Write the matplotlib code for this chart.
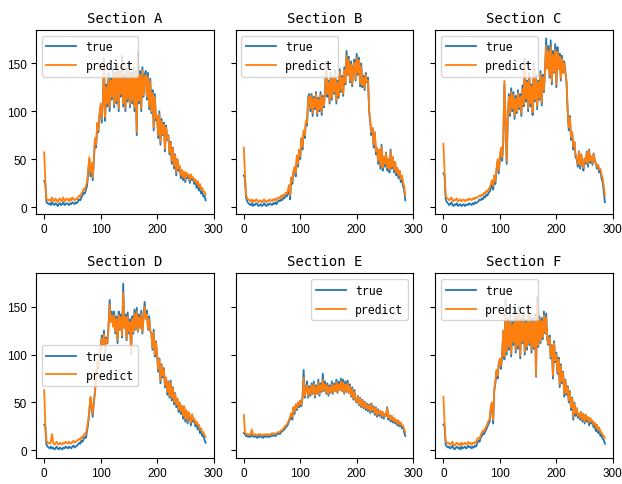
import matplotlib
matplotlib.use("Agg")
import matplotlib.pyplot as plt
import numpy as np

x = list(range(0, 288, 2))

A_true = [27, 25, 5, 4,
          3, 4, 2, 5, 3, 2, 4, 3, 1, 3, 4, 2, 3, 5, 2, 3, 4, 3, 2, 4, 3, 5, 4, 3, 5, 4,
          6, 8, 7, 10, 12, 15, 14, 18,
          22, 35, 50, 32, 45, 28,
          48, 70, 62, 85, 78, 95,
          105, 88, 110,
          155,
          90, 128, 105, 140, 100, 135, 112, 145, 104, 140, 108, 150, 100, 142, 115, 158, 105, 138, 100, 145,
          110, 150, 104, 140, 108, 146, 100, 142, 75, 162, 108, 142, 100, 146, 115, 138, 142, 112, 140, 102, 134,
          98, 122, 80, 118, 90,
          95, 72, 100, 65, 92, 75, 88, 58, 85, 70,
          75, 55, 68, 45, 62, 40, 55, 33, 50, 38,
          42, 30, 38, 28, 36, 26, 35, 30, 32, 25, 33, 28, 30, 24, 27,
          20, 25, 17, 22, 14, 16, 11, 12, 7]
A_pred = [57, 28, 9, 7,
          7, 8, 6, 10, 7, 6, 9, 7, 5, 8, 9, 6, 7, 10, 6, 7, 9, 8, 6, 9, 7, 10, 8, 7, 9, 8,
          10, 12, 11, 14, 16, 19, 18, 22,
          26, 38, 52, 36, 46, 31,
          50, 72, 65, 88, 80, 97,
          108, 92, 112,
          150,
          94, 125, 108, 136, 104, 132, 115, 140, 107, 136, 111, 145, 103, 138, 118, 152, 108, 134, 103, 141,
          113, 145, 107, 136, 111, 142, 104, 138, 78, 155, 111, 138, 103, 142, 117, 135, 138, 115, 136, 105, 131,
          100, 119, 83, 115, 93,
          95, 75, 97, 68, 90, 76, 86, 61, 83, 71,
          74, 57, 67, 48, 61, 43, 54, 36, 50, 40,
          43, 33, 39, 31, 37, 29, 36, 32, 34, 28, 34, 30, 31, 27, 29,
          24, 27, 21, 24, 18, 20, 16, 16, 13]

B_true = [33, 30, 10, 6,
          4, 3, 2, 4, 1, 3, 2, 4, 3, 1, 2, 3, 1, 2, 4, 2, 1, 3, 2, 4, 3, 2, 4, 3, 5, 3,
          5, 7, 6, 8, 7, 10, 9, 12, 11, 14,
          20, 8, 30, 24, 36,
          40, 32, 52, 42, 58, 50, 70, 60, 78, 72, 88, 85,
          115, 118,
          100, 118, 95, 115, 102, 120, 95, 114, 100, 120, 96, 116, 104,
          125, 152, 115,
          132, 108, 140, 112, 136, 118, 142, 108, 132, 114, 144, 120, 137, 116, 146,
          128, 163,
          138, 157, 130, 152, 126, 147, 154, 132, 160, 138, 156, 126, 150,
          125, 137, 122, 140, 130,
          135, 100, 88, 75, 82, 62, 78, 55,
          62, 45, 60, 40, 65, 38, 52, 42, 57,
          38, 50, 36, 60, 40, 52, 36, 47,
          33, 40, 30, 37, 26, 32, 22, 18, 7]
B_pred = [62, 35, 13, 9,
          8, 7, 6, 8, 5, 7, 6, 8, 7, 5, 6, 7, 5, 6, 8, 6, 5, 7, 6, 8, 7, 6, 8, 7, 9, 7,
          9, 10, 9, 12, 10, 13, 12, 15, 14, 17,
          23, 12, 31, 27, 38,
          42, 35, 54, 45, 60, 53, 72, 63, 80, 75, 90, 88,
          112, 116,
          103, 116, 98, 113, 104, 118, 98, 112, 102, 117, 99, 114, 106,
          123, 148, 118,
          130, 110, 137, 114, 134, 120, 139, 111, 130, 116, 141, 122, 135, 118, 143,
          130, 158,
          139, 154, 132, 149, 128, 145, 151, 134, 156, 140, 153, 129, 147,
          127, 135, 124, 138, 131,
          132, 102, 90, 78, 83, 65, 78, 58,
          62, 48, 60, 43, 63, 41, 53, 45, 56,
          41, 50, 39, 58, 42, 52, 39, 47,
          36, 41, 33, 38, 29, 33, 26, 22, 12]

C_true = [35, 33, 8, 5,
          4, 2, 3, 5, 2, 1, 3, 2, 4, 1, 2, 3, 1, 2, 3, 1, 2, 3, 2, 4, 3, 2, 4, 3, 5, 4,
          5, 6, 8, 7, 9, 8, 11, 10, 13, 12, 15, 16,
          20, 25, 18, 30, 24, 38, 48, 35,
          50, 60, 48, 68,
          128, 90, 45,
          92, 118, 95, 124, 100, 120, 92, 116, 98, 122, 102, 118, 95, 127, 105,
          155, 110,
          132, 100, 140, 105, 128, 96, 150, 110, 138, 102, 132, 112, 142, 106, 138, 120,
          145, 176,
          145, 168, 135, 174, 128, 163, 140, 170, 125, 167, 145, 160, 132, 158, 140, 152,
          142, 130,
          100, 80, 95, 70, 78, 60, 68, 52,
          50, 42, 58, 40, 55, 44, 38, 50,
          45, 58, 42, 60, 46, 52, 44, 56, 48,
          45, 40, 43, 36, 38, 30, 26, 15, 5]
C_pred = [66, 36, 12, 9,
          9, 7, 8, 10, 7, 6, 8, 7, 9, 6, 7, 8, 6, 7, 8, 6, 7, 8, 7, 9, 8, 7, 9, 8, 10, 9,
          10, 11, 12, 11, 13, 12, 15, 14, 17, 16, 19, 20,
          24, 28, 22, 33, 27, 40, 50, 38,
          53, 62, 52, 70,
          132, 92, 48,
          95, 115, 98, 120, 103, 117, 95, 113, 100, 119, 104, 115, 98, 123, 107,
          150, 113,
          130, 103, 137, 108, 126, 99, 146, 112, 135, 105, 130, 114, 139, 109, 135, 122,
          143, 168,
          144, 163, 137, 167, 131, 159, 141, 164, 128, 162, 144, 157, 134, 155, 140, 150,
          140, 131,
          102, 83, 93, 73, 78, 63, 68, 55,
          52, 45, 57, 43, 55, 46, 41, 51,
          47, 57, 45, 59, 48, 53, 46, 55, 49,
          46, 42, 44, 39, 40, 34, 30, 22, 12]

D_true = [27, 25, 6, 4,
          3, 2, 4, 2, 3, 1, 2, 4, 2, 1, 3, 2, 1, 3, 2, 4, 3, 2, 4, 3, 2, 4, 5, 3, 4, 5,
          6, 8, 7, 10, 9, 12, 14, 13,
          20, 28, 40, 55, 45, 35,
          50, 60, 75, 90, 85, 98,
          105, 120, 110, 125, 100, 118, 112,
          130, 157, 135, 145, 130,
          145, 122, 140, 112, 145, 126, 142, 118,
          174,
          128, 142, 115, 144, 122, 137, 100, 140,
          122, 147, 126, 149, 124, 142, 128, 146, 122, 140,
          155,
          138, 146, 126, 140, 124,
          122, 105, 126, 98, 114,
          100, 82, 96, 70, 90, 76, 86, 66,
          76, 58, 72, 55, 73, 52, 66, 48, 60, 45,
          54, 40, 50, 38, 46,
          33, 46, 30, 41, 28, 39, 34, 26, 37, 30, 31, 25,
          27, 22, 24, 18, 20, 15, 16, 11, 8]
D_pred = [63, 28, 10, 8,
          8, 7, 9, 17, 8, 6, 7, 9, 7, 6, 8, 7, 6, 8, 7, 9, 8, 7, 9, 8, 7, 9, 10, 8, 9, 10,
          11, 12, 11, 14, 13, 16, 18, 17,
          24, 31, 42, 56, 47, 38,
          52, 62, 78, 92, 88, 100,
          107, 117, 111, 121, 103, 116, 113,
          128, 152, 134, 141, 129,
          141, 124, 137, 115, 141, 127, 139, 120,
          165,
          128, 139, 117, 140, 124, 134, 103, 137,
          124, 143, 127, 145, 125, 139, 128, 142, 124, 137,
          150,
          137, 142, 127, 137, 125,
          121, 107, 123, 100, 113,
          101, 85, 95, 73, 89, 78, 85, 68,
          76, 61, 71, 57, 71, 55, 65, 51, 59, 48,
          54, 43, 50, 41, 47,
          36, 46, 33, 42, 31, 40, 36, 29, 38, 32, 33, 28,
          30, 26, 27, 22, 23, 19, 19, 16, 14]

E_true = [18, 17, 15, 15,
          14, 15, 14, 16, 15, 14, 15, 14, 13, 15, 14, 15, 14, 13, 15, 14, 15, 14, 15, 14, 15, 16, 15, 16, 15, 16,
          17, 18, 17, 19, 20, 21, 22, 24, 25, 27,
          30, 33, 38, 32, 45, 38, 48, 42, 50, 45,
          52, 46, 55,
          84, 55, 64, 72,
          55, 67, 57, 70, 59, 72, 55, 68, 59, 74, 57, 70, 61,
          80,
          62, 72, 59, 70, 57, 68, 60, 72, 59, 70, 62, 74, 60, 72, 63, 75, 62, 74, 59, 72, 61, 73,
          60, 69, 56, 66, 53, 63, 52,
          50, 57, 47, 55, 45, 53, 44, 51, 42, 49,
          41, 48, 39, 49, 40, 46, 37, 45, 35, 43,
          36, 41, 34, 40, 33, 38, 36, 45, 32, 37, 30, 36,
          29, 34, 28, 32, 26, 31, 25, 29, 23, 25, 19, 15]
E_pred = [37, 19, 17, 17,
          16, 17, 16, 22, 17, 16, 17, 16, 16, 17, 16, 17, 16, 16, 17, 16, 17, 16, 17, 16, 17, 18, 17, 18, 17, 18,
          19, 19, 19, 21, 21, 23, 24, 26, 27, 29,
          32, 35, 39, 35, 45, 40, 48, 44, 50, 47,
          52, 48, 55,
          76, 57, 62, 68,
          57, 65, 59, 68, 60, 69, 57, 66, 60, 71, 59, 68, 62,
          74,
          63, 69, 60, 68, 59, 66, 61, 69, 60, 68, 62, 71, 61, 69, 63, 72, 62, 71, 60, 69, 62, 70,
          60, 67, 57, 64, 54, 61, 53,
          51, 56, 48, 54, 46, 52, 45, 50, 44, 48,
          43, 47, 41, 48, 42, 45, 39, 44, 37, 42,
          38, 41, 36, 40, 35, 38, 37, 44, 34, 37, 32, 36,
          31, 34, 30, 32, 28, 31, 27, 29, 26, 26, 22, 19]

F_true = [27, 25, 6, 4,
          3, 4, 2, 3, 5, 2, 1, 3, 4, 2, 3, 1, 4, 2, 3, 4, 2, 3, 5, 3, 4, 2, 4, 3, 5, 4,
          8, 10, 9, 13, 15, 18, 17, 20,
          22, 25, 28, 30, 45, 50,
          28,
          62, 70, 82, 75, 90,
          95, 85, 100,
          125, 95, 158,
          100, 138, 105, 142, 98, 134, 110, 148, 102, 140, 106, 150, 96, 138, 112, 145, 100, 136, 105, 150,
          110, 140, 102, 138, 106,
          142, 77, 160,
          108, 140, 112, 138, 116, 145, 122, 143, 115,
          110, 120, 96, 110, 75, 114, 92,
          102, 80, 97, 66, 90, 70, 82, 56, 74, 58,
          67, 50, 62, 42, 55, 32, 50, 36, 44, 34,
          38, 32, 40, 30, 38, 28, 37, 30, 34, 26, 33, 28, 30, 24, 27,
          20, 25, 18, 22, 15, 16, 12, 11, 7]
F_pred = [56, 28, 10, 8,
          7, 8, 6, 7, 9, 6, 5, 7, 8, 6, 7, 5, 8, 6, 7, 8, 6, 7, 9, 7, 8, 6, 8, 7, 9, 8,
          12, 13, 12, 16, 18, 21, 20, 23,
          25, 28, 31, 33, 47, 50,
          32,
          64, 72, 84, 78, 91,
          96, 88, 101,
          125, 98, 150,
          103, 134, 108, 138, 101, 131, 113, 143, 105, 136, 109, 145, 99, 134, 114, 141, 103, 133, 108, 145,
          112, 137, 105, 134, 108,
          138, 78, 155,
          110, 137, 114, 135, 118, 141, 123, 139, 116,
          111, 118, 98, 109, 78, 112, 94,
          100, 82, 95, 69, 88, 72, 81, 59, 73, 60,
          66, 52, 61, 45, 54, 35, 49, 39, 44, 36,
          39, 34, 40, 32, 38, 30, 37, 32, 35, 29, 34, 30, 31, 27, 29,
          24, 27, 21, 24, 19, 19, 16, 15, 13]

titles = ["Section A", "Section B", "Section C", "Section D", "Section E", "Section F"]
trues = [A_true, B_true, C_true, D_true, E_true, F_true]
preds = [A_pred, B_pred, C_pred, D_pred, E_pred, F_pred]
legend_locs = ["upper left", "upper left", "upper left", "center left", "upper right", "upper left"]
yticks = [0, 50, 100, 150]
xticks = [0, 100, 200, 300]

fig, axes = plt.subplots(2, 3, figsize=(6.22, 4.85), dpi=100, sharey=True)
fig.subplots_adjust(left=0.058, right=0.9855, bottom=0.054, top=0.936, wspace=0.124, hspace=0.32)

for ax, t, yt, yp, loc in zip(axes.flat, titles, trues, preds, legend_locs):
    ax.plot(x, yt, color="#1f77b4", lw=1.3, label="true")
    ax.plot(x, yp, color="#ff7f0e", lw=1.3, label="predict")
    ax.set_title(t, fontsize=10, family="DejaVu Sans Mono", pad=6)
    ax.set_xticks(xticks)
    ax.set_yticks(yticks)
    ax.tick_params(labelsize=8.5, length=3.5, pad=3)
    for lab in ax.get_xticklabels() + ax.get_yticklabels():
        lab.set_family("Liberation Sans")
    ax.legend(loc=loc, prop={"family": "DejaVu Sans Mono", "size": 8.3}, handlelength=2.6)

fig.savefig("out.png", dpi=100)
